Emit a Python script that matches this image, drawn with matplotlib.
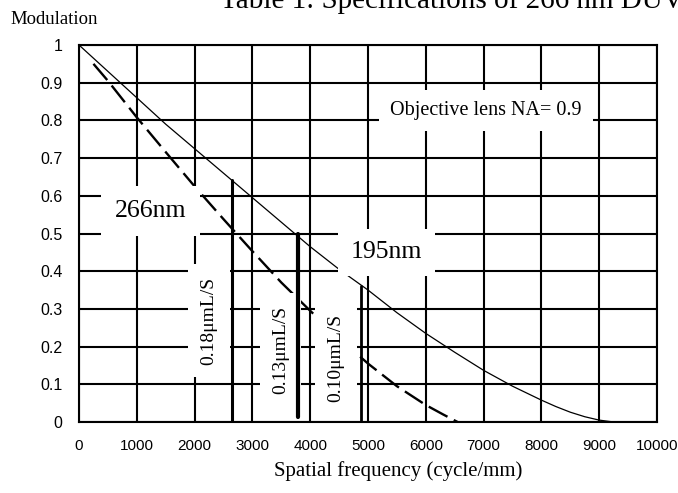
import numpy as np
import matplotlib.pyplot as plt

# MTF curves
freq_195 = [0, 500, 1000, 1500, 2000, 2500, 3000, 3500, 4000, 4500,
            5000, 5500, 6000, 6500, 7000, 7500, 8000, 8250, 8500, 8750, 9000, 9250]
mod_195 = [1.0, 0.93, 0.86, 0.79, 0.725, 0.66, 0.595, 0.53, 0.465, 0.405,
           0.35, 0.29, 0.235, 0.185, 0.137, 0.095, 0.058, 0.041, 0.026, 0.014, 0.005, 0.0]

freq_266 = [250, 500, 1000, 1500, 2000, 2500, 3000, 3500, 4000, 4500,
            5000, 5500, 6000, 6300, 6550]
mod_266 = [0.95, 0.905, 0.808, 0.716, 0.625, 0.538, 0.453, 0.37, 0.295, 0.222,
           0.155, 0.095, 0.045, 0.02, 0.0]

# line/space markers
ls_labels = ['0.18\u03bcmL/S', '0.13\u03bcmL/S', '0.10\u03bcmL/S']
ls_freq = [2640, 3794, 4880]
ls_top = [0.642, 0.50, 0.36]
ls_bottom = [0.0, 0.013, 0.0]

xticks = [0, 1000, 2000, 3000, 4000, 5000, 6000, 7000, 8000, 9000, 10000]
yticks = [0, 0.1, 0.2, 0.3, 0.4, 0.5, 0.6, 0.7, 0.8, 0.9, 1]
ytick_labels = ['0', '0.1', '0.2', '0.3', '0.4', '0.5', '0.6', '0.7', '0.8', '0.9', '1']

serif = 'Liberation Serif'
sans = 'Liberation Sans'

fig = plt.figure(figsize=(6.78, 4.93), dpi=100)
ax = fig.add_axes([79/678, 1 - 422/493, 578/678, 377/493])

ax.plot(freq_195, mod_195, color='black', lw=0.9, zorder=2)
ax.plot(freq_266, mod_266, color='black', lw=1.7, dashes=(9, 3), zorder=2)

widths = [2.2, 3.0, 2.0]
for f, lo, hi, w in zip(ls_freq, ls_bottom, ls_top, widths):
    ax.plot([f, f], [lo, hi], color='black', lw=w, solid_capstyle='round', zorder=4)

box = dict(facecolor='white', edgecolor='none')
label_pos = [(2250, 0.269), (3486, 0.191), (4443, 0.171)]
for (x, y), txt in zip(label_pos, ls_labels):
    ax.text(x, y, txt, rotation=90, ha='center', va='center', family=serif,
            fontsize=14, bbox=dict(box, pad=9), zorder=3)

ax.text(620, 0.544, '266nm', family=serif, fontsize=18.5, ha='left', va='baseline',
        bbox=dict(box, pad=10), zorder=3)
ax.text(4706, 0.434, '195nm', family=serif, fontsize=18.5, ha='left', va='baseline',
        bbox=dict(box, pad=9), zorder=3)
ax.text(5380, 0.814, 'Objective lens NA= 0.9', family=serif, fontsize=14.5,
        ha='left', va='baseline', bbox=dict(box, pad=8), zorder=3)

ax.set_xlim(0, 10000)
ax.set_ylim(0, 1)
ax.set_xticks(xticks)
ax.set_xticklabels([str(t) for t in xticks], family=sans, fontsize=11)
ax.set_yticks(yticks)
ax.set_yticklabels(ytick_labels, family=sans, fontsize=11.5)
ax.tick_params(length=0)
ax.tick_params(axis='x', pad=12)
ax.tick_params(axis='y', pad=12)
ax.set_axisbelow(True)
ax.grid(True, color='black', lw=1.5)
for s in ax.spines.values():
    s.set_linewidth(1.5)

fig.text(10/678, 1 - 24/493, 'Modulation', family=serif, fontsize=13.5, va='baseline')
fig.text(398/678, 1 - 471/493, 'Spatial frequency (cycle/mm)', family=serif,
         fontsize=15, ha='center', va='center')
# page caption above the chart, cut off by the top edge as in the original
fig.text(220/678, 1 - 8/493, 'Table 1: Specifications of 266 nm DUV', family=serif,
         fontsize=21, va='baseline')

fig.savefig('out.png', dpi=100)
